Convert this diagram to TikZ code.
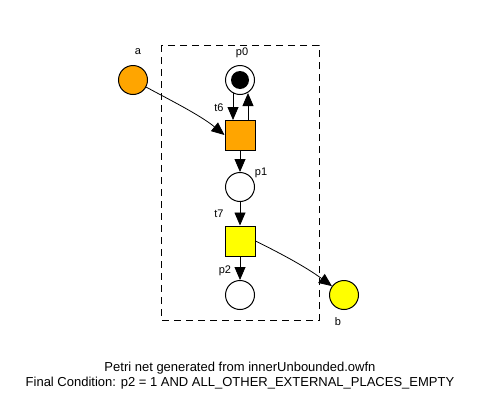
\documentclass[tikz,border=0pt]{standalone}
\usepackage{fontspec}
\setmainfont{Liberation Sans}
\usetikzlibrary{arrows.meta}
\definecolor{porange}{HTML}{FFA500}
\definecolor{pyellow}{HTML}{FFFF00}
\tikzset{
  place/.style={circle,draw,line width=1pt,minimum size=29pt,inner sep=0pt,fill=white},
  trans/.style={rectangle,draw,line width=1pt,minimum size=30pt,inner sep=0pt},
  lbl/.style={font=\fontsize{11}{12}\selectfont,inner sep=0pt},
  arc/.style={line width=0.8pt,-{Triangle[length=13pt,width=11pt]}},
}
\begin{document}
\begin{tikzpicture}[x=1pt,y=-1pt]
\useasboundingbox (0,0) rectangle (477,410);
\fill[white] (0,0) rectangle (477,410);
\draw[dash pattern=on 7pt off 5pt] (161,45) rectangle (319,320);
\node[place,fill=porange] (a) at (133,80) {};
\node[lbl] at (138,52) {a};
\node[place] (p0) at (240,80) {};
\fill (240,80) circle (9);
\node[lbl] at (242,53) {p0};
\node[trans,fill=porange] (t6) at (240,135) {};
\node[lbl] at (219,108) {t6};
\node[place] (p1) at (240,187) {};
\node[lbl] at (261,173) {p1};
\node[trans,fill=pyellow] (t7) at (240,241) {};
\node[lbl] at (219,214) {t7};
\node[place] (p2) at (240,295) {};
\node[lbl] at (225,271) {p2};
\node[place,fill=pyellow] (b) at (344,295) {};
\node[lbl] at (338,322) {b};
\coordinate (p0a) at (233,93);
\coordinate (t6a) at (233,120);
\coordinate (p0b) at (248,93);
\coordinate (t6b) at (248,120);
\draw[arc] (p0a) -- (t6a);
\draw[arc] (t6b) -- (p0b);
\draw[arc] (a) .. controls (170,100) and (200,115) .. (t6.west);
\draw[arc] (t6) -- (p1);
\draw[arc] (p1) -- (t7);
\draw[arc] (t7) -- (p2);
\draw[arc] (t7.east) .. controls (290,258) and (310,270) .. (b);
\node[font=\fontsize{13}{15}\selectfont,align=center] (cap) at (240,376) {Petri net generated from innerUnbounded.owfn\\Final Condition: p2 = 1 AND ALL\_OTHER\_EXTERNAL\_PLACES\_EMPTY};
\end{tikzpicture}
\end{document}
